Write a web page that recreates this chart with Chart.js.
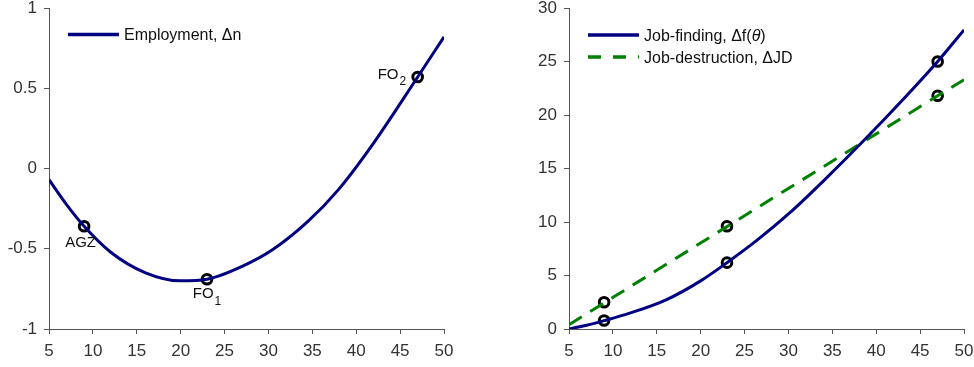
<!DOCTYPE html>
<html lang="en">
<head>
<meta charset="UTF-8">
<title>Employment and flows</title>
<script src="https://cdn.jsdelivr.net/npm/chart.js"></script>
<style>
  body { margin: 0; background: #fff; }
  .wrap { position: relative; width: 974px; height: 367px; }
  canvas { position: absolute; top: 0; }
  #left { left: 0; }
  #right { left: 487px; }
</style>
</head>
<body>
<div class="wrap">
  <canvas id="left" width="487" height="367"></canvas>
  <canvas id="right" width="487" height="367"></canvas>
</div>
<script>
// x ticks (both panels)
const xTicks = [5, 10, 15, 20, 25, 30, 35, 40, 45, 50];

// left panel: employment change
const empX = [5, 7, 9, 12, 16, 20, 23, 27, 30.5, 34.5, 38, 42, 47, 50];
const empY = [-0.07, -0.225, -0.36, -0.52, -0.65, -0.70, -0.69, -0.61, -0.505, -0.33, -0.13, 0.16, 0.57, 0.82];
const empMarkX = [9, 23, 47];
const empMarkY = [-0.36, -0.69, 0.57];
const empMarkLabels = ['AGZ', 'FO|1', 'FO|2'];
const leftYTicks = [-1, -0.5, 0, 0.5, 1];

// right panel: job finding and job destruction
const jfX = [5, 7, 9, 12, 16, 20, 23, 26.5, 30, 34, 38.75, 43, 47, 50];
const jfY = [0, 0.35, 0.78, 1.5, 2.7, 4.5, 6.2, 8.35, 10.75, 13.85, 17.75, 21.4, 25.0, 27.95];
const jdX = [5, 9, 23, 47, 50];
const jdY = [0.4, 2.44, 9.57, 21.8, 23.3];
const jfMarkY = [0.8, 6.2, 25.0];
const jdMarkY = [2.5, 9.6, 21.8];
const markX = [9, 23, 47];
const rightYTicks = [0, 5, 10, 15, 20, 25, 30];

const NAVY = '#000080';
const GREEN = '#008000';
const AXIS = '#555555';
const TEXT = '#333333';
const FONT = '"Liberation Sans", Arial, sans-serif';

function pts(xs, ys) { return xs.map((x, i) => ({ x: x, y: ys[i] })); }

function lineSet(xs, ys, color, dash, mode) {
  return {
    data: pts(xs, ys), borderColor: color, borderWidth: 3, borderDash: dash || [],
    pointRadius: 0, showLine: true, tension: mode ? 0.4 : 0, cubicInterpolationMode: mode || 'default', fill: false
  };
}
function markSet(xs, ys) {
  return {
    data: pts(xs, ys), showLine: false, pointRadius: 4.8, pointBorderWidth: 3,
    pointBorderColor: '#000', pointBackgroundColor: 'rgba(0,0,0,0)', pointStyle: 'circle'
  };
}

function scales(yTicks, yWidth) {
  const yMin = yTicks[0], yMax = yTicks[yTicks.length - 1];
  return {
    x: {
      type: 'linear', min: 5, max: 50,
      afterBuildTicks: s => { s.ticks = xTicks.map(v => ({ value: v })); },
      afterFit: s => { s.height = 38; s.paddingLeft = 0; s.paddingRight = 0; },
      grid: { drawOnChartArea: false, tickLength: 5, color: AXIS },
      border: { color: AXIS, width: 1 },
      ticks: { color: TEXT, font: { family: FONT, size: 17 }, padding: 7, maxRotation: 0 }
    },
    y: {
      type: 'linear', min: yMin, max: yMax,
      afterBuildTicks: s => { s.ticks = yTicks.map(v => ({ value: v })); },
      afterFit: s => { s.width = yWidth; s.paddingTop = 0; s.paddingBottom = 0; },
      grid: { drawOnChartArea: false, tickLength: 5, color: AXIS },
      border: { color: AXIS, width: 1 },
      ticks: { color: TEXT, font: { family: FONT, size: 17 }, padding: 7, callback: v => String(v) }
    }
  };
}

// legend drawn inside the plot, with long line samples
function legendPlugin(items) {
  return {
    id: 'innerLegend',
    afterDraw(chart) {
      const ctx = chart.ctx;
      ctx.save();
      items.forEach(it => {
        ctx.beginPath();
        ctx.strokeStyle = it.color;
        ctx.lineWidth = 3.5;
        ctx.setLineDash(it.dash || []);
        ctx.moveTo(it.x, it.y);
        ctx.lineTo(it.x + 51, it.y);
        ctx.stroke();
        ctx.setLineDash([]);
        ctx.fillStyle = '#111';
        ctx.textBaseline = 'middle';
        let tx = it.x + 56;
        it.text.forEach(part => {
          ctx.font = (part.italic ? 'italic ' : '') + '16px ' + FONT;
          ctx.fillText(part.t, tx, it.y + 1.5);
          tx += ctx.measureText(part.t).width;
        });
      });
      ctx.restore();
    }
  };
}

// point labels with optional subscript (text|sub)
const labelOffsets = [{ dx: -3.5, dy: 17, align: 'center' }, { dx: 0, dy: 15, align: 'center' }, { dx: -11.5, dy: -2.5, align: 'right' }];
const pointLabels = {
  id: 'pointLabels',
  afterDraw(chart) {
    const ctx = chart.ctx, xs = chart.scales.x, ys = chart.scales.y;
    ctx.save();
    ctx.fillStyle = '#111';
    ctx.textBaseline = 'middle';
    empMarkLabels.forEach((lab, i) => {
      const [main, sub] = lab.split('|');
      const o = labelOffsets[i];
      ctx.font = '15px ' + FONT;
      const wMain = ctx.measureText(main).width;
      ctx.font = '12px ' + FONT;
      const wSub = sub ? ctx.measureText(sub).width + 1 : 0;
      const w = wMain + wSub;
      const px = xs.getPixelForValue(empMarkX[i]) + o.dx;
      const py = ys.getPixelForValue(empMarkY[i]) + o.dy;
      const x0 = o.align === 'center' ? px - w / 2 : px - w;
      ctx.font = '15px ' + FONT;
      ctx.fillText(main, x0, py);
      if (sub) {
        ctx.font = '12px ' + FONT;
        ctx.fillText(sub, x0 + wMain + 1, py + 7);
      }
    });
    ctx.restore();
  }
};

const common = {
  responsive: false, animation: false,
  plugins: { legend: { display: false }, tooltip: { enabled: false } }
};

new Chart(document.getElementById('left'), {
  type: 'scatter',
  data: { datasets: [lineSet(empX, empY, NAVY, [], 'monotone'), markSet(empMarkX, empMarkY)] },
  options: Object.assign({}, common, {
    layout: { padding: { left: 0, right: 43, top: 8, bottom: 0 } },
    scales: scales(leftYTicks, 49)
  }),
  plugins: [legendPlugin([
    { x: 68, y: 34.5, color: NAVY, text: [{ t: 'Employment, \u0394n' }] }
  ]), pointLabels]
});

new Chart(document.getElementById('right'), {
  type: 'scatter',
  data: {
    datasets: [
      lineSet(jfX, jfY, NAVY, [], 'monotone'),
      lineSet(jdX, jdY, GREEN, [15, 10]),
      markSet(markX, jfMarkY),
      markSet(markX, jdMarkY)
    ]
  },
  options: Object.assign({}, common, {
    layout: { padding: { left: 0, right: 10, top: 8, bottom: 0 } },
    scales: scales(rightYTicks, 82)
  }),
  plugins: [legendPlugin([
    { x: 101, y: 35, color: NAVY, text: [{ t: 'Job-finding, \u0394f(' }, { t: '\u03B8', italic: true }, { t: ')' }] },
    { x: 101, y: 57, color: GREEN, dash: [13, 12], text: [{ t: 'Job-destruction, \u0394JD' }] }
  ])]
});
</script>
</body>
</html>
